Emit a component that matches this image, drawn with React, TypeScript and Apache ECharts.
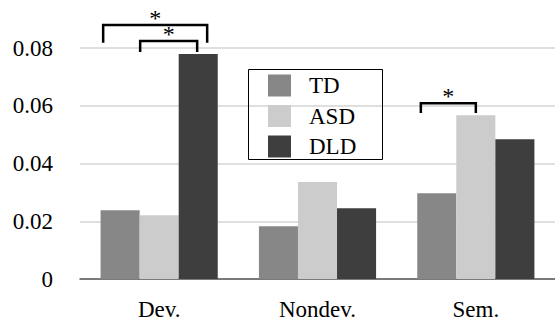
import React, { useEffect, useRef } from "react";
import * as echarts from "echarts";

const categories = ["Dev.", "Nondev.", "Sem."];
const seriesNames = ["TD", "ASD", "DLD"];
const tdValues = [0.0238, 0.0183, 0.0297];
const asdValues = [0.0221, 0.0336, 0.0567];
const dldValues = [0.0779, 0.0245, 0.0484];
const yTicks = { min: 0, max: 0.08, interval: 0.02 };

// significance brackets: category index, x offsets (px) from category centre, top & leg-end values
const brackets = [
  { cat: 0, x0: -56, x1: 48, top: 0.088, bottom: 0.0818 },
  { cat: 0, x0: -19, x1: 38, top: 0.0824, bottom: 0.0786 },
  { cat: 2, x0: -55, x1: 0, top: 0.0609, bottom: 0.0575 },
];
const starLabel = "*";

const colors = ["#878787", "#cbcccb", "#3d3e3d"];
const FONT = "Liberation Serif";

export default function App() {
  const ref = useRef<HTMLDivElement>(null);
  useEffect(() => {
    if (!ref.current) return;
    const chart = echarts.init(ref.current, undefined, { renderer: "svg" });
    const values = [tdValues, asdValues, dldValues];
    chart.setOption({
      animation: false,
      color: colors,
      textStyle: { fontFamily: FONT },
      grid: { left: 80, right: 0, top: 48, bottom: 43, containLabel: false },
      legend: {
        orient: "vertical",
        left: 268,
        top: 74,
        icon: "rect",
        itemWidth: 23,
        itemHeight: 22,
        itemGap: 7.5,
        padding: 0,
        data: seriesNames,
        textStyle: {
          fontFamily: FONT,
          fontSize: 23,
          color: "#000",
          padding: [0, 0, 0, 13],
        },
      },
      xAxis: {
        type: "category",
        data: categories,
        axisTick: { show: false },
        axisLine: { lineStyle: { color: "#595959", width: 1.5 } },
        axisLabel: { fontFamily: FONT, fontSize: 23, color: "#000", margin: 19 },
      },
      yAxis: {
        type: "value",
        min: yTicks.min,
        max: yTicks.max,
        interval: yTicks.interval,
        axisLine: { show: false },
        axisTick: { show: false },
        splitLine: { lineStyle: { color: "#d4d4d4", width: 1.5 } },
        axisLabel: { fontFamily: FONT, fontSize: 23, color: "#000", margin: 27 },
      },
      series: seriesNames.map((name, i) => ({
        name,
        type: "bar",
        data: values[i],
        barGap: "0%",
        barCategoryGap: "26%",
        itemStyle: { color: colors[i] },
      })),
    });

    const elements: any[] = [
      {
        type: "rect",
        shape: { x: 248.5, y: 69.5, width: 134, height: 90 },
        style: { fill: "none", stroke: "#000", lineWidth: 1 },
        z: 90,
      },
    ];
    brackets.forEach((b) => {
      const [cx, yTop] = chart.convertToPixel({ gridIndex: 0 }, [b.cat, b.top]) as number[];
      const [, yBot] = chart.convertToPixel({ gridIndex: 0 }, [b.cat, b.bottom]) as number[];
      const x0 = cx + b.x0;
      const x1 = cx + b.x1;
      elements.push({
        type: "polyline",
        shape: { points: [[x0, yBot], [x0, yTop], [x1, yTop], [x1, yBot]] },
        style: { stroke: "#000", lineWidth: 2.5, fill: null },
        z: 100,
      });
      elements.push({
        type: "text",
        x: (x0 + x1) / 2,
        y: yTop - 7,
        style: {
          text: starLabel,
          fontFamily: FONT,
          fontSize: 24,
          fill: "#000",
          align: "center",
          verticalAlign: "middle",
        },
        z: 100,
      });
    });
    chart.setOption({ graphic: elements });

    return () => chart.dispose();
  }, []);
  return (
    <div
      ref={ref}
      style={{ position: "fixed", left: 0, top: 0, width: 555, height: 322, background: "#fff" }}
    />
  );
}
